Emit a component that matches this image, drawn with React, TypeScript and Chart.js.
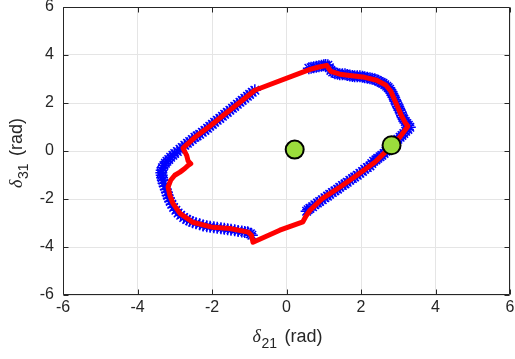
import React, { useEffect, useRef } from "react";
import { Chart, registerables } from "chart.js";

Chart.register(...registerables);

// Axis ticks
const X_TICKS = [-6, -4, -2, 0, 2, 4, 6];
const Y_TICKS = [-6, -4, -2, 0, 2, 4, 6];

// Blue '*' samples, left arc (delta21, delta31)
const blueLeftX = [-0.85, -0.92, -0.99, -1.05, -1.12, -1.19, -1.25, -1.32, -1.39, -1.45, -1.52, -1.59, -1.66, -1.72, -1.79, -1.86, -1.93, -1.99, -2.06, -2.12, -2.19, -2.26, -2.33, -2.40, -2.46, -2.53, -2.60, -2.66, -2.73, -2.80, -2.86, -2.93, -3.00, -3.05, -3.11, -3.16, -3.21, -3.25, -3.29, -3.33, -3.35, -3.36, -3.35, -3.34, -3.32, -3.30, -3.27, -3.24, -3.21, -3.19, -3.16, -3.12, -3.08, -3.03, -2.97, -2.91, -2.84, -2.76, -2.68, -2.60, -2.52, -2.43, -2.33, -2.24, -2.14, -2.05, -1.95, -1.86, -1.76, -1.67, -1.58, -1.49, -1.39, -1.30, -1.20, -1.12, -1.04, -0.97, -0.93];
const blueLeftY = [2.53, 2.45, 2.36, 2.28, 2.20, 2.11, 2.03, 1.95, 1.86, 1.78, 1.70, 1.61, 1.53, 1.45, 1.36, 1.28, 1.20, 1.11, 1.03, 0.95, 0.86, 0.78, 0.70, 0.63, 0.57, 0.48, 0.40, 0.32, 0.24, 0.15, 0.07, -0.02, -0.10, -0.18, -0.26, -0.35, -0.43, -0.51, -0.60, -0.70, -0.80, -0.91, -1.01, -1.11, -1.22, -1.34, -1.47, -1.60, -1.72, -1.85, -1.97, -2.10, -2.22, -2.35, -2.47, -2.58, -2.68, -2.77, -2.85, -2.91, -2.97, -3.01, -3.05, -3.10, -3.14, -3.16, -3.18, -3.20, -3.22, -3.24, -3.26, -3.28, -3.30, -3.33, -3.35, -3.37, -3.39, -3.45, -3.51];

// Blue '*' samples, right arc
const blueRightX = [0.60, 0.66, 0.73, 0.80, 0.87, 0.94, 1.00, 1.05, 1.11, 1.15, 1.19, 1.24, 1.30, 1.37, 1.43, 1.50, 1.57, 1.63, 1.70, 1.77, 1.83, 1.90, 1.97, 2.04, 2.10, 2.17, 2.24, 2.30, 2.37, 2.43, 2.48, 2.54, 2.59, 2.64, 2.69, 2.73, 2.77, 2.80, 2.83, 2.86, 2.88, 2.91, 2.93, 2.96, 2.99, 3.02, 3.04, 3.07, 3.10, 3.12, 3.15, 3.19, 3.23, 3.27, 3.31, 3.26, 3.20, 3.15, 3.10, 3.05, 2.99, 2.94, 2.88, 2.83, 2.77, 2.72, 2.67, 2.62, 2.56, 2.51, 2.45, 2.40, 2.34, 2.29, 2.24, 2.17, 2.10, 2.04, 1.97, 1.90, 1.83, 1.77, 1.70, 1.63, 1.57, 1.50, 1.43, 1.37, 1.30, 1.23, 1.16, 1.10, 1.03, 0.96, 0.89, 0.83, 0.76, 0.70, 0.63, 0.58, 0.54];
const blueRightY = [3.45, 3.47, 3.49, 3.51, 3.53, 3.55, 3.57, 3.58, 3.57, 3.47, 3.36, 3.29, 3.24, 3.22, 3.20, 3.20, 3.20, 3.17, 3.15, 3.13, 3.11, 3.11, 3.11, 3.09, 3.07, 3.05, 3.03, 3.01, 2.99, 2.95, 2.90, 2.86, 2.82, 2.76, 2.70, 2.64, 2.57, 2.48, 2.40, 2.32, 2.24, 2.15, 2.07, 1.96, 1.86, 1.78, 1.70, 1.59, 1.49, 1.40, 1.32, 1.23, 1.15, 1.07, 0.99, 0.90, 0.82, 0.73, 0.65, 0.57, 0.49, 0.40, 0.32, 0.23, 0.15, 0.07, -0.01, -0.10, -0.18, -0.24, -0.30, -0.37, -0.43, -0.52, -0.62, -0.69, -0.76, -0.85, -0.93, -1.01, -1.08, -1.15, -1.22, -1.30, -1.37, -1.44, -1.51, -1.59, -1.66, -1.73, -1.80, -1.88, -1.95, -2.03, -2.10, -2.17, -2.24, -2.32, -2.39, -2.45, -2.51];

// Red trajectory
const redX = [-0.85, 0.63, 0.84, 1.08, 1.19, 1.43, 1.70, 2.10, 2.42, 2.67, 2.80, 2.93, 3.07, 3.18, 3.26, 3.04, 2.77, 2.37, 1.89, 1.43, 0.97, 0.63, 0.52, 0.44, -0.18, -0.90, -0.94, -1.03, -1.52, -1.98, -2.52, -2.86, -3.05, -3.13, -3.18, -3.11, -3.00, -2.86, -2.73, -2.64, -2.57, -2.64, -2.68, -2.78, -2.46, -2.06, -1.66, -1.25, -0.85];
const redY = [2.53, 3.40, 3.49, 3.57, 3.32, 3.20, 3.15, 3.07, 2.95, 2.74, 2.49, 2.03, 1.53, 1.20, 1.03, 0.57, 0.13, -0.47, -1.01, -1.51, -1.97, -2.47, -2.72, -2.95, -3.30, -3.80, -3.51, -3.38, -3.23, -3.18, -2.97, -2.60, -2.18, -1.85, -1.50, -1.22, -1.01, -0.88, -0.73, -0.60, -0.53, -0.42, -0.18, 0.12, 0.57, 1.03, 1.53, 2.03, 2.53];

// Green equilibrium points
const greenX = [0.22, 2.82];
const greenY = [0.06, 0.24];

const X_TITLE = { main: "δ", sub: "21", rest: " (rad)" };
const Y_TITLE = { main: "δ", sub: "31", rest: " (rad)" };

const zip = (xs: number[], ys: number[]) => {
  const n = Math.min(xs.length, ys.length);
  const out: { x: number; y: number }[] = [];
  for (let i = 0; i < n; i++) out.push({ x: xs[i], y: ys[i] });
  return out;
};

const TEXT = "#262626";
const SANS = "'Liberation Sans', Arial, Helvetica, sans-serif";

function drawTitle(ctx: CanvasRenderingContext2D, cx: number, cy: number, rot: number, t: { main: string; sub: string; rest: string }) {
  const mainFont = "italic 18px 'Liberation Serif', 'Times New Roman', serif";
  const bodyFont = `18px ${SANS}`;
  const subFont = `14px ${SANS}`;
  ctx.save();
  ctx.translate(cx, cy);
  ctx.rotate(rot);
  ctx.fillStyle = TEXT;
  ctx.textBaseline = "alphabetic";
  ctx.textAlign = "left";
  ctx.font = mainFont;
  const w1 = ctx.measureText(t.main).width;
  ctx.font = subFont;
  const w2 = ctx.measureText(t.sub).width;
  ctx.font = bodyFont;
  const w3 = ctx.measureText(t.rest).width;
  let x0 = -(w1 + w2 + w3 + 3) / 2;
  ctx.font = mainFont;
  ctx.fillText(t.main, x0, 0);
  x0 += w1 + 0.5;
  ctx.font = subFont;
  ctx.fillText(t.sub, x0, 6);
  x0 += w2 + 2.5;
  ctx.font = bodyFont;
  ctx.fillText(t.rest, x0, 0);
  ctx.restore();
}

const framePlugin = {
  id: "frame",
  afterDraw(chart: any) {
    const { ctx, chartArea, scales } = chart;
    const L = Math.round(chartArea.left) + 0.5;
    const R = Math.round(chartArea.right) - 0.5;
    const T = Math.round(chartArea.top) + 0.5;
    const B = Math.round(chartArea.bottom) - 0.5;
    ctx.save();
    ctx.strokeStyle = TEXT;
    ctx.lineWidth = 1;
    ctx.beginPath();
    ctx.rect(L, T, R - L, B - T);
    ctx.stroke();
    ctx.beginPath();
    for (const v of X_TICKS) {
      const px = Math.round(scales.x.getPixelForValue(v)) + 0.5;
      ctx.moveTo(px, B); ctx.lineTo(px, B - 5);
      ctx.moveTo(px, T); ctx.lineTo(px, T + 5);
    }
    for (const v of Y_TICKS) {
      const py = Math.round(scales.y.getPixelForValue(v)) + 0.5;
      ctx.moveTo(L, py); ctx.lineTo(L + 5, py);
      ctx.moveTo(R, py); ctx.lineTo(R - 5, py);
    }
    ctx.stroke();
    ctx.restore();
    const midX = (chartArea.left + chartArea.right) / 2;
    const midY = (chartArea.top + chartArea.bottom) / 2;
    drawTitle(ctx, midX + 1, 342, 0, X_TITLE);
    drawTitle(ctx, 22, midY + 2, -Math.PI / 2, Y_TITLE);
  },
};

export default function App() {
  const ref = useRef<HTMLCanvasElement | null>(null);
  useEffect(() => {
    if (!ref.current) return;
    const chart = new Chart(ref.current, {
      type: "scatter",
      data: {
        datasets: [
          {
            label: "equilibria",
            data: zip(greenX, greenY),
            pointRadius: 9,
            pointBackgroundColor: "#9BDD3C",
            pointBorderColor: "#000000",
            pointBorderWidth: 2,
            showLine: false,
            order: 0,
          },
          {
            label: "trajectory",
            data: zip(redX, redY),
            showLine: true,
            borderColor: "#ff0000",
            borderWidth: 5,
            borderJoinStyle: "round",
            borderCapStyle: "round",
            pointRadius: 0,
            tension: 0,
            fill: false,
            order: 1,
          },
          {
            label: "samples",
            data: [...zip(blueLeftX, blueLeftY), ...zip(blueRightX, blueRightY)],
            showLine: false,
            pointStyle: "star",
            pointRadius: 6,
            pointBorderColor: "#0000ff",
            pointBackgroundColor: "#0000ff",
            pointBorderWidth: 1.5,
            order: 2,
          },
        ],
      } as any,
      options: {
        animation: false,
        responsive: false,
        devicePixelRatio: 1,
        events: [],
        layout: { autoPadding: false, padding: { left: 0, right: 5, top: 7, bottom: 0 } },
        plugins: { legend: { display: false }, tooltip: { enabled: false }, title: { display: false } },
        scales: {
          x: {
            type: "linear",
            min: -6,
            max: 6,
            afterBuildTicks: (s: any) => { s.ticks = X_TICKS.map((v) => ({ value: v })); },
            afterFit: (s: any) => { s.height = 64; s.paddingLeft = 0; s.paddingRight = 0; },
            ticks: { color: TEXT, font: { family: SANS, size: 16 }, padding: 3, maxRotation: 0, callback: (v: any) => String(v) },
            grid: { color: "#e5e5e5", lineWidth: 1, drawTicks: false },
            border: { display: false },
          },
          y: {
            type: "linear",
            min: -6,
            max: 6,
            afterBuildTicks: (s: any) => { s.ticks = Y_TICKS.map((v) => ({ value: v })); },
            afterFit: (s: any) => { s.width = 63; s.paddingTop = 0; s.paddingBottom = 0; },
            ticks: { color: TEXT, font: { family: SANS, size: 16 }, padding: 9, callback: (v: any) => String(v) },
            grid: { color: "#e5e5e5", lineWidth: 1, drawTicks: false },
            border: { display: false },
          },
        },
      } as any,
      plugins: [framePlugin],
    });
    return () => chart.destroy();
  }, []);
  return (
    <div style={{ position: "absolute", left: 0, top: 0, width: 515, height: 359, background: "#ffffff" }}>
      <canvas ref={ref} width={515} height={359} style={{ display: "block" }} />
    </div>
  );
}
